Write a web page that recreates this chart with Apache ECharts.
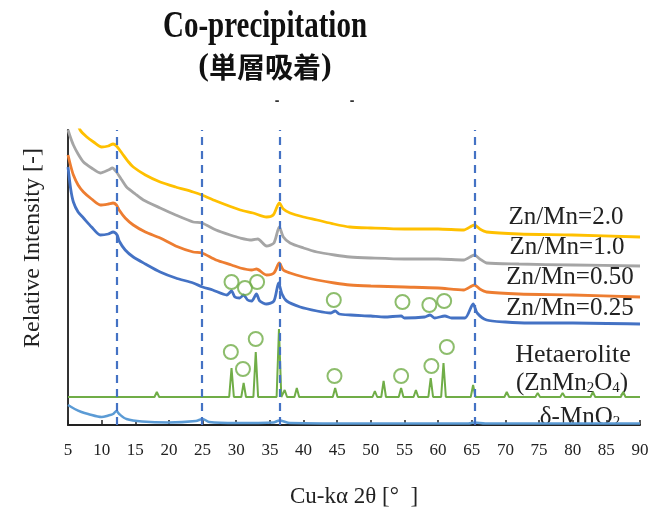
<!DOCTYPE html>
<html><head><meta charset="utf-8">
<script src="https://cdn.jsdelivr.net/npm/echarts@6/dist/echarts.min.js"></script>
<style>html,body{margin:0;padding:0;background:#fff}#c{width:653px;height:514px}</style>
</head><body><div id="c"></div>
<script>
// x: 2θ [deg], y: relative intensity (arbitrary units)
const xTicks = [5,10,15,20,25,30,35,40,45,50,55,60,65,70,75,80,85,90];
const refLines = [12.2, 24.9, 36.4, 65.4];

const zn20 = [[5,330],[6,310],[6.8,295],[7.8,288],[8.8,283],[10,278],[11,279],[11.7,281],[12.2,279],[13,272],[14,263],[14.7,258],[16.5,250],[18.7,243],[21,238],[23.6,233],[24.9,230],[27,224],[30.6,215],[32.5,212],[34.5,208],[35.5,210],[36.4,222],[37,216],[38,212],[40,208],[42,205],[44.5,201],[46.9,198],[50,197],[55,196],[60,196],[63.8,195],[65.4,200],[66.2,196],[67.2,193],[72,191],[80,190],[90,188]];
const zn10 = [[5,295],[5.4,287],[5.8,280],[6.5,271],[7.3,263],[8.5,257],[9.8,252],[11,255],[11.6,257],[12.2,253],[13,245],[13.7,238],[15,231],[16.2,225],[18.7,217],[21,210],[23.6,203],[24.9,202],[27,195],[29.1,190],[30.6,187],[32.3,185],[33.2,186],[34.5,179],[35.6,182],[36.4,198],[37,188],[38,182],[40,177],[42,173],[44.6,170],[46.9,168],[50,167],[55,166],[60,166],[63.8,165],[65.4,170],[66.2,166],[67.2,162],[72,161],[80,160],[90,159]];
const zn050 = [[5,270],[5.4,259],[5.8,250],[6.5,240],[7.3,233],[8.5,226],[9.8,220],[11,221],[11.7,222],[12.2,220],[12.6,215],[13.5,207],[14.7,200],[16.5,193],[18.7,187],[21,179],[23.6,173],[24.9,172],[27,165],[29.3,160],[30.6,157],[32.3,155],[33,156],[34.5,150],[35.6,152],[36.4,162],[37,155],[38,152],[40,148],[42,145],[44.6,142],[46.9,140],[50,139],[55,138],[60,137],[63.8,135],[65.4,140],[66.2,136],[67.2,133],[72,131],[80,130],[90,128]];
const zn025 = [[5,258],[5.4,236],[5.8,223],[6.5,213],[7.3,207],[8.5,198],[9.8,190],[11,191],[11.7,193],[12.3,190],[12.6,184],[13.5,175],[14.7,168],[16.5,161],[18.7,153],[21,147],[23.6,142],[25,138],[26.5,135],[28.6,130],[29.3,134],[29.8,128],[30.5,127],[31.1,130],[31.7,125],[32.3,124],[33,131],[33.5,124],[34.5,121],[35.6,124],[36.3,142],[36.8,131],[37.5,124],[39.5,118],[42,114],[44,112],[44.7,114],[45.3,111],[47,110],[50,109],[52,108],[54.5,109],[55,107],[58,108],[58.8,110],[59.5,107],[61,109],[62,107],[64,107],[65.2,121],[65.8,112],[67.2,105],[70,103],[73.6,102],[80,102],[90,101]];
const mno2 = [[5,20],[6,16],[7,13],[8,11],[10,8],[11,9.5],[11.7,11],[12.2,14],[12.6,11],[13.7,6],[16,3.5],[20,2.5],[24,4],[25,6],[26,3],[30,2],[35.5,2.5],[36.4,4.5],[38,2],[50,1.5],[64.5,1.5],[65.4,2.5],[67,1.5],[90,1.5]];

// Hetaerolite (ZnMn2O4) reference pattern: peak positions and heights
const hetBase = 28;
const hetPeakPos = [18.2,29.3,31.1,32.9,36.35,37.2,39.0,44.7,50.6,51.9,54.5,56.7,58.9,60.8,65.2,70.2,74.8,78.5,83.0,87.5];
const hetPeakHeight = [33,57,42,73,96,35,37,37,34,44,37,35,47,62,40,33,32,32,33,33];

// Circle markers (ZnMn2O4 reflections)
const markSample = [[29.3,143],[31.3,137],[33.1,143],[44.5,125],[54.7,123],[58.7,120],[60.9,124]];
const markRef = [[29.2,73],[31.0,56],[32.9,86],[44.6,49],[54.5,49],[59.0,59],[61.3,78]];

const hetData = [[5, hetBase]];
hetPeakPos.forEach((p,i)=>{ hetData.push([p-0.35,hetBase],[p,hetPeakHeight[i]],[p+0.35,hetBase]); });
hetData.push([90, hetBase]);

const chart = echarts.init(document.getElementById('c'));
const serif = '"Liberation Serif","DejaVu Serif",serif';
const lineS = (name, data, color, w, smooth) => ({
  name, type:'line', data, showSymbol:false, symbol:'none', smooth: smooth,
  lineStyle:{color, width:w}, clip:true, z:3, animation:false
});
const lbl = (text, x, y, size) => ({type:'text', x, y, style:{text, x:0, y:0, textAlign:'center', textVerticalAlign:'middle', font:size+'px '+serif, fill:'#222',
  rich:{s:{fontSize:15, fontFamily:serif, fill:'#222', padding:[11,0,0,0]}}}});
chart.setOption({
  animation:false,
  grid:{left:68, right:13, top:130, bottom:89, containLabel:false},
  xAxis:{type:'value', min:5, max:90, interval:5,
    axisLine:{show:true, lineStyle:{color:'#222', width:2}},
    axisTick:{show:true, inside:true, length:5, lineStyle:{color:'#222', width:1.5}},
    axisLabel:{show:true, fontFamily:serif, fontSize:17, color:'#222', margin:17,
      formatter:(v)=> xTicks.includes(v) ? String(v) : ''},
    splitLine:{show:false},
    name:'Cu-kα 2θ [°  ]', nameLocation:'middle', nameGap:60,
    nameTextStyle:{fontFamily:serif, fontSize:23, color:'#222'}
  },
  yAxis:{type:'value', min:0, max:295,
    axisLine:{show:true, lineStyle:{color:'#333', width:2}},
    axisTick:{show:false}, axisLabel:{show:false}, splitLine:{show:false}
  },
  series:[
    lineS('δ-MnO2', mno2, '#5b9bd5', 2.5, 0.3),
    Object.assign(lineS('Hetaerolite', hetData, '#70ad47', 2, false), {
      markLine:{silent:true, symbol:'none', label:{show:false},
        lineStyle:{color:'#4472c4', type:[8,6], width:2.2},
        data: refLines.map(v=>({xAxis:v}))}
    }),
    lineS('Zn/Mn=0.25', zn025, '#4472c4', 2.8, 0.25),
    lineS('Zn/Mn=0.50', zn050, '#ed7d31', 2.8, 0.25),
    lineS('Zn/Mn=1.0', zn10, '#a5a5a5', 2.8, 0.25),
    lineS('Zn/Mn=2.0', zn20, '#ffc000', 2.8, 0.25),
    {type:'scatter', data: markSample.concat(markRef), symbol:'circle', symbolSize:14,
      itemStyle:{color:'rgba(255,255,255,0)', borderColor:'#70ad47', borderWidth:2}, z:5, animation:false}
  ],
  graphic:[
    {type:'text', x:265, y:27, scaleY:1.28, style:{text:'Co-precipitation', x:0, y:0, textAlign:'center', textVerticalAlign:'middle', font:'bold 29px '+serif, fill:'#111'}},
    {type:'text', x:265, y:67, style:{text:'{p|(}{c|単層吸着}{p|)}', x:0, y:0, textAlign:'center', textVerticalAlign:'middle',
      rich:{p:{font:'bold 32px '+serif, fill:'#111'}, c:{font:'bold 28px "Noto Sans CJK JP", sans-serif', fill:'#111'}}}},
    {type:'text', x:277, y:101, style:{text:'-', x:0, y:0, textAlign:'center', textVerticalAlign:'middle', font:'bold 14px sans-serif', fill:'#333'}},
    {type:'text', x:352, y:101, style:{text:'-', x:0, y:0, textAlign:'center', textVerticalAlign:'middle', font:'bold 14px sans-serif', fill:'#333'}},
    {type:'text', x:33, y:248, rotation:Math.PI/2, style:{text:'Relative Intensity [-]', x:0, y:0, textAlign:'center', textVerticalAlign:'middle', font:'24px '+serif, fill:'#222'}},
    lbl('Zn/Mn=2.0', 566, 217, 25),
    lbl('Zn/Mn=1.0', 567, 247, 25),
    lbl('Zn/Mn=0.50', 570, 277, 25),
    lbl('Zn/Mn=0.25', 570, 308, 25),
    lbl('Hetaerolite', 573, 355, 26),
    lbl('(ZnMn{s|2}O{s|4})', 572, 383, 25),
    lbl('δ-MnO{s|2}', 580, 417, 25)
  ]
});
</script></body></html>
